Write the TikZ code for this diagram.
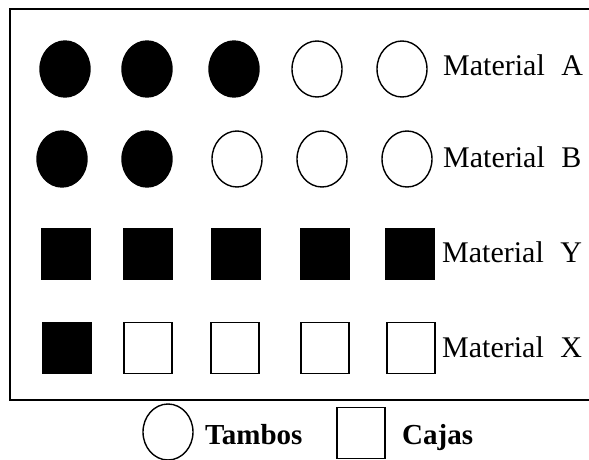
\documentclass[tikz,border=0pt]{standalone}
\usepackage{fontspec}
\setmainfont{Liberation Serif}
\usetikzlibrary{shapes.geometric}
\tikzset{
  tambo/.style={draw, ellipse, line width=1.4pt, minimum width=50pt, minimum height=56pt, inner sep=0pt},
  caja/.style={draw, rectangle, line width=1.4pt, minimum width=48pt, minimum height=51pt, inner sep=0pt},
  lleno/.style={fill=black},
  vacio/.style={fill=white},
  etiqueta/.style={anchor=base west, inner sep=0pt, font=\fontsize{30}{30}\selectfont},
  leyenda/.style={anchor=base west, inner sep=0pt, font=\fontsize{29}{29}\selectfont\bfseries}
}

\begin{document}
\begin{tikzpicture}[x=1pt,y=-1pt]
  \useasboundingbox (0,0) rectangle (589,460);
  % marco
  \draw[line width=2.4pt] (589,9) -- (10,9) -- (10,400) -- (589,400);
  % tambos
  \foreach \x/\s [count=\i] in {65/lleno,147/lleno,234/lleno,317/vacio,402/vacio}
    \node[tambo,\s] (a\i) at (\x,69) {};
  \foreach \x/\s [count=\i] in {62/lleno,147/lleno,237/vacio,322/vacio,407/vacio}
    \node[tambo,\s] (b\i) at (\x,159) {};
  % cajas
  \foreach \x/\s [count=\i] in {66/lleno,148/lleno,236/lleno,325/lleno,410/lleno}
    \node[caja,\s] (y\i) at (\x,254) {};
  \foreach \x/\s [count=\i] in {67/lleno,148/vacio,235/vacio,325/vacio,411/vacio}
    \node[caja,\s] (x\i) at (\x,348) {};
  \node[etiqueta] (labA) at (443,75) {Material\hspace{9pt} A};
  \node[etiqueta] (labB) at (443,167) {Material\hspace{9pt} B};
  \node[etiqueta] (labY) at (442,262) {Material\hspace{9pt} Y};
  \node[etiqueta] (labX) at (442,357) {Material\hspace{9pt} X};
  % leyenda
  \node[tambo,vacio] (tambo) at (168,432) {};
  \node[leyenda] (tambos) at (205,444) {Tambos};
  \node[caja,vacio] (caja) at (361,433) {};
  \node[leyenda] (cajas) at (402,444) {Cajas};
\end{tikzpicture}
\end{document}
